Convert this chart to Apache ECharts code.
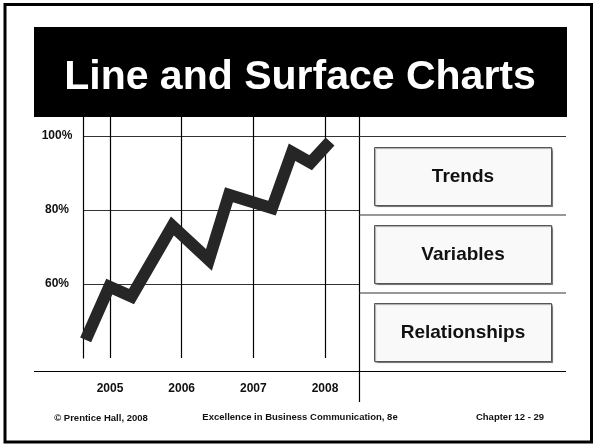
<!DOCTYPE html>
<html>
<head>
<meta charset="utf-8">
<script src="https://cdn.jsdelivr.net/npm/echarts@6/dist/echarts.min.js"></script>
<style>
  html, body { margin: 0; padding: 0; background: #ffffff; }
  #chart { width: 594px; height: 445px; }
</style>
</head>
<body>
<div id="chart"></div>
<script>
// Slide text
const slideTitle = 'Line and Surface Charts';
const footerLeft = '\u00A9 Prentice Hall, 2008';
const footerMid = 'Excellence in Business Communication, 8e';
const footerRight = 'Chapter 12 - 29';

// Axis ticks
const yearTicks = [2005, 2006, 2007, 2008];
const pctTicks = [60, 80, 100];

// Zig-zag trend line (x in years, y in percent)
const trendX = [2004.66, 2004.99, 2005.30, 2005.87, 2006.38, 2006.66, 2007.26, 2007.54, 2007.80, 2008.07];
const trendY = [44.9, 59.3, 56.6, 75.7, 66.5, 84.1, 80.5, 95.6, 92.8, 98.5];

// Side panel labels
const topics = ['Trends', 'Variables', 'Relationships'];

const FONT = '"Liberation Sans", Arial, sans-serif';
const INK = '#000000';
const PANEL_BG = '#f9f9f9';

// layout of the slide (pixels)
const panel = { x: 34, y: 117, w: 532, h: 285 };
const splitX = 359;          // divider between plot and side panel
const labelRowY = 371;       // top of the year label row
const sideRows = [136.5, 215, 293];
const boxes = [
  { y: 147, h: 58 },
  { y: 225, h: 58 },
  { y: 303, h: 58 }
];

const chart = echarts.init(document.getElementById('chart'), null, { renderer: 'canvas' });

const graphics = [
  // outer slide frame
  { type: 'rect', silent: true, z: 0,
    shape: { x: 5, y: 4.5, width: 586.5, height: 437.5 },
    style: { fill: '#ffffff', stroke: INK, lineWidth: 3 } },
  // title band
  { type: 'rect', silent: true, z: 1,
    shape: { x: 34, y: 27, width: 533, height: 90 },
    style: { fill: '#000000' } },
  { type: 'text', silent: true, z: 2,
    x: 300, y: 78,
    style: { text: slideTitle, fill: '#ffffff', font: 'bold 41px ' + FONT,
             textAlign: 'center', textVerticalAlign: 'middle' } },
  // chart panel background
  { type: 'rect', silent: true, z: -1,
    shape: { x: panel.x + 0.5, y: panel.y + 0.5, width: panel.w, height: panel.h },
    style: { fill: PANEL_BG, stroke: INK, lineWidth: 1 } },
  // year label row separator
  { type: 'line', silent: true, z: 3,
    shape: { x1: panel.x, y1: labelRowY + 0.5, x2: panel.x + panel.w, y2: labelRowY + 0.5 },
    style: { stroke: INK, lineWidth: 1.2 } },
  // plot / side panel divider
  { type: 'line', silent: true, z: 3,
    shape: { x1: splitX + 0.5, y1: panel.y, x2: splitX + 0.5, y2: panel.y + panel.h },
    style: { stroke: INK, lineWidth: 1.2 } }
];

sideRows.forEach(function (ry) {
  graphics.push({ type: 'line', silent: true, z: 3,
    shape: { x1: splitX, y1: ry, x2: panel.x + panel.w, y2: ry },
    style: { stroke: '#333333', lineWidth: 1.2 } });
});

boxes.forEach(function (b, i) {
  graphics.push({ type: 'rect', silent: true, z: 3,
    shape: { x: 374.5, y: b.y + 0.5, width: 177, height: b.h },
    style: { fill: PANEL_BG, stroke: '#555555', lineWidth: 1,
             shadowColor: 'rgba(0,0,0,0.35)', shadowOffsetX: 1, shadowOffsetY: 1, shadowBlur: 1 } });
  graphics.push({ type: 'text', silent: true, z: 4,
    x: 463, y: b.y + b.h / 2 + 1,
    style: { text: topics[i], fill: '#111111', font: 'bold 19px ' + FONT,
             textAlign: 'center', textVerticalAlign: 'middle' } });
});

// footer
[[footerLeft, 101, 418], [footerMid, 300, 417], [footerRight, 510, 417]].forEach(function (f) {
  graphics.push({ type: 'text', silent: true, z: 4,
    x: f[1], y: f[2],
    style: { text: f[0], fill: '#111111', font: 'bold 9.5px ' + FONT,
             textAlign: 'center', textVerticalAlign: 'middle' } });
});

const option = {
  animation: false,
  backgroundColor: '#ffffff',
  graphic: graphics,
  grid: { left: 83, top: 117, width: splitX - 83, height: 358 - 117, containLabel: false },
  xAxis: {
    type: 'value',
    min: 2004.623,
    max: 2008.474,
    axisLine: { show: false },
    axisTick: { show: false },
    splitLine: { show: false },
    axisLabel: {
      customValues: yearTicks,
      formatter: function (v) { return String(v); },
      margin: 25,
      color: '#111111',
      fontFamily: FONT,
      fontWeight: 'bold',
      fontSize: 12
    }
  },
  yAxis: {
    type: 'value',
    min: 40,
    max: 105.14,
    interval: 20,
    axisLine: { show: true, lineStyle: { color: INK, width: 1.2 } },
    axisTick: { show: false },
    splitLine: { show: true, showMinLine: false, showMaxLine: false,
                 lineStyle: { color: '#333333', width: 1.2 } },
    axisLabel: {
      margin: 26,
      align: 'center',
      color: '#111111',
      fontFamily: FONT,
      fontWeight: 'bold',
      fontSize: 12,
      formatter: function (v) { return pctTicks.indexOf(v) >= 0 ? v + '%' : ''; }
    }
  },
  series: [
    {
      type: 'line',
      symbol: 'none',
      data: trendX.map(function (x, i) { return [x, trendY[i]]; }),
      lineStyle: { color: '#262626', width: 12, join: 'miter', cap: 'butt', miterLimit: 10 },
      z: 5,
      markLine: {
        silent: true,
        symbol: 'none',
        label: { show: false },
        lineStyle: { color: INK, width: 1.2, type: 'solid' },
        data: yearTicks.map(function (y) { return { xAxis: y }; }),
        z: 1
      }
    }
  ]
};

chart.setOption(option);
</script>
</body>
</html>
